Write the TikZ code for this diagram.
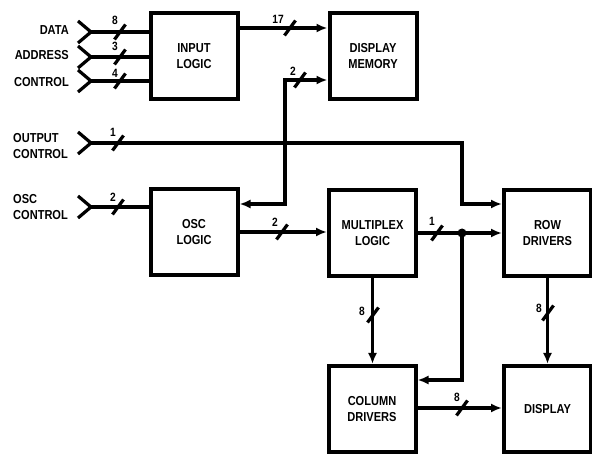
\documentclass[tikz,border=0pt]{standalone}
\usepackage{fontspec}
\setmainfont[FakeStretch=0.85]{Liberation Sans}
\usetikzlibrary{arrows.meta,calc}

\begin{document}
\begin{tikzpicture}[
  x=1pt, y=-1pt,
  every node/.style={font=\fontsize{13}{16}\selectfont\bfseries, align=center},
  blk/.style={draw, line width=4pt, minimum width=87pt, minimum height=86pt, inner sep=0pt},
  wire/.style={line width=3.2pt},
  arr/.style={wire, -{Latex[length=11pt,width=9pt]}},
  lbl/.style={align=left, inner sep=0pt},
  num/.style={font=\fontsize{12}{12}\selectfont\bfseries, inner sep=0pt}
]
\useasboundingbox (0,0) rectangle (592,454);

% blocks
\node[blk] (inlog) at (194,56) {INPUT\\LOGIC};
\node[blk] (dmem) at (373,56.5) {DISPLAY\\MEMORY};
\node[blk] (osc) at (194,232.5) {OSC\\LOGIC};
\node[blk] (mux) at (372.5,233) {MULTIPLEX\\LOGIC};
\node[blk] (row) at (547.5,233) {ROW\\DRIVERS};
\node[blk] (col) at (372,409) {COLUMN\\DRIVERS};
\node[blk] (disp) at (547.5,409) {DISPLAY};

% input names
\node[lbl, anchor=east] (data) at (69,30) {DATA};
\node[lbl, anchor=east] (address) at (69,55) {ADDRESS};
\node[lbl, anchor=east] (control) at (69,82) {CONTROL};
\node[lbl, anchor=west] (outctl) at (13,146) {OUTPUT\\CONTROL};
\node[lbl, anchor=west] (oscctl) at (13,207.5) {OSC\\CONTROL};

% input pins
\coordinate (din) at (91,32);
\coordinate (ain) at (91,57);
\coordinate (cin) at (91,81);
\coordinate (ocin) at (91,143);
\coordinate (oscin) at (91,207);
\foreach \c in {din,ain,cin,ocin,oscin}
  \draw[wire, line join=miter] ($(\c)+(-13,-11)$) -- (\c) -- ($(\c)+(-13,11)$);

% wires
\draw[wire] (din) -- (inlog.west |- din);
\draw[wire] (ain) -- (inlog.west |- ain);
\draw[wire] (cin) -- (inlog.west |- cin);
\draw[wire] (oscin) -- (osc.west |- oscin);
\draw[arr] (inlog.east |- 0,28) -- (dmem.west |- 0,28);
\draw[wire, {Latex[length=11pt,width=9pt]}-{Latex[length=11pt,width=9pt]}]
  (osc.east |- 0,204) -| (285,80) -- (dmem.west |- 0,80);
\draw[arr] (ocin) -| (462,204) -- (row.west |- 0,204);
\draw[arr] (osc.east |- 0,232) -- (mux.west |- 0,232);
\draw[arr] (mux.east |- 0,233) -- (row.west |- 0,233);
\coordinate (jn) at (462,233);
\fill (jn) circle (4.5);
\draw[arr] (jn) |- (col.east |- 0,380);
\draw[arr] (mux.south) -- (mux.south |- col.north);
\draw[arr] (row.south) -- (row.south |- disp.north);
\draw[arr] (col.east |- 0,408) -- (disp.west |- 0,408);

% bus widths
\foreach \x/\y in {120/32, 120/57, 120/81, 290/28, 300/80, 118/143, 118/207,
                   282/232, 437/233, 373/315, 548/313, 462/408}
  \draw[wire] (\x-5.5,\y+7.5) -- (\x+5.5,\y-7.5);
\foreach \x/\y/\t/\n in {115/20/8/w1, 115/46/3/w2, 115/73/4/w3, 278/19/17/w4,
                         293/71/2/w5, 113/132/1/w6, 113/197/2/w7, 275/222/2/w8,
                         432/221/1/w9, 362/311/8/w10, 539/308/8/w11, 457/397/8/w12}
  \node[num] (\n) at (\x,\y) {\t};
\end{tikzpicture}
\end{document}
